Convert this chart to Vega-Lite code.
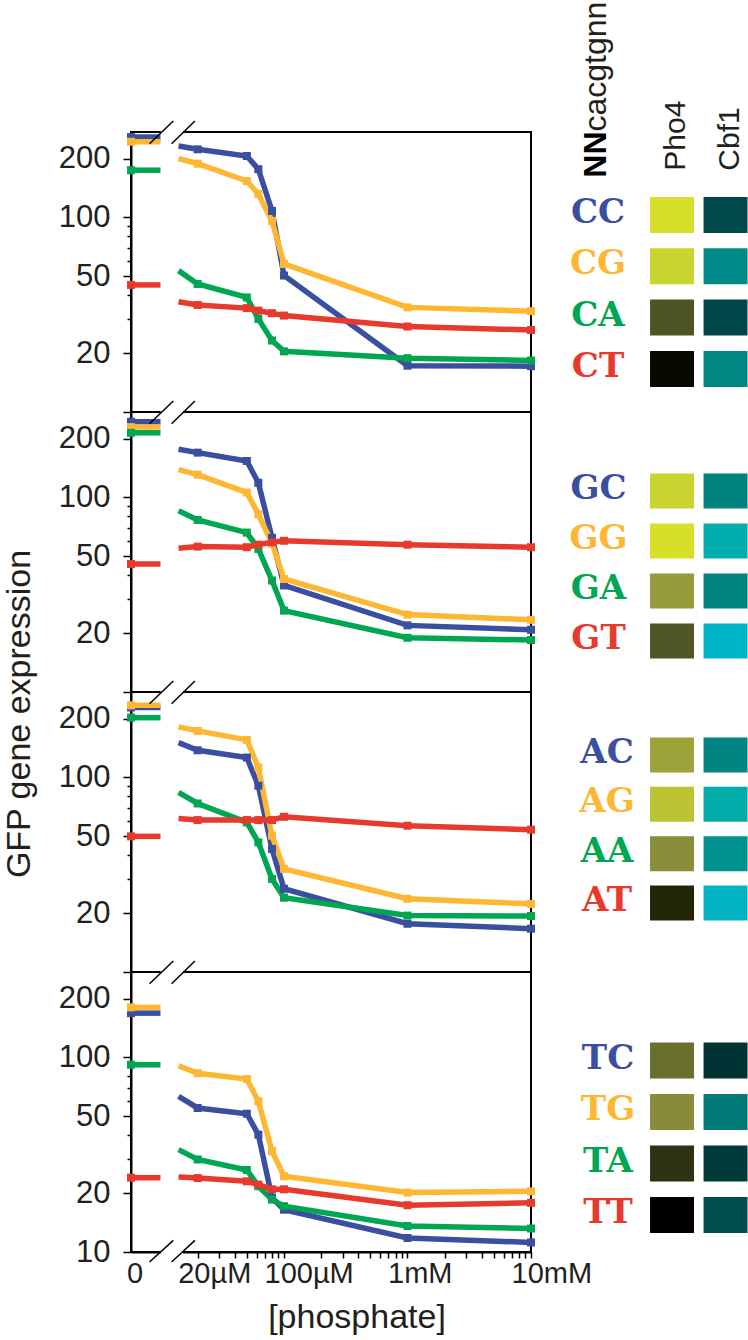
{
"$schema": "https://vega.github.io/schema/vega-lite/v6.json",
"background": "white",
"padding": {"left": 0, "top": 1, "right": 0, "bottom": 0},
"bounds": "flush",
"columns": 2,
"spacing": {"row": 0, "column": 18},
"datasets": {
"curves": [
{"p":1,"nt":"C","c":14,"v":233},{"p":1,"nt":"C","c":20,"v":224},{"p":1,"nt":"C","c":50,"v":207},{"p":1,"nt":"C","c":62,"v":177},{"p":1,"nt":"C","c":80,"v":108},{"p":1,"nt":"C","c":100,"v":50.3},{"p":1,"nt":"C","c":1000,"v":17.3},{"p":1,"nt":"C","c":10000,"v":17.2},
{"p":1,"nt":"G","c":14,"v":201},{"p":1,"nt":"G","c":20,"v":189},{"p":1,"nt":"G","c":50,"v":154},{"p":1,"nt":"G","c":62,"v":132},{"p":1,"nt":"G","c":80,"v":96},{"p":1,"nt":"G","c":100,"v":57.7},{"p":1,"nt":"G","c":1000,"v":34.5},{"p":1,"nt":"G","c":10000,"v":33},
{"p":1,"nt":"A","c":14,"v":53.3},{"p":1,"nt":"A","c":20,"v":45.5},{"p":1,"nt":"A","c":50,"v":38.8},{"p":1,"nt":"A","c":62,"v":30.1},{"p":1,"nt":"A","c":80,"v":23.3},{"p":1,"nt":"A","c":100,"v":20.5},{"p":1,"nt":"A","c":1000,"v":18.9},{"p":1,"nt":"A","c":10000,"v":18.4},
{"p":1,"nt":"T","c":14,"v":36.9},{"p":1,"nt":"T","c":20,"v":35.5},{"p":1,"nt":"T","c":50,"v":34.2},{"p":1,"nt":"T","c":62,"v":33.2},{"p":1,"nt":"T","c":80,"v":32.2},{"p":1,"nt":"T","c":100,"v":31.3},{"p":1,"nt":"T","c":1000,"v":27.5},{"p":1,"nt":"T","c":10000,"v":26.4},
{"p":2,"nt":"C","c":14,"v":177},{"p":2,"nt":"C","c":20,"v":170},{"p":2,"nt":"C","c":50,"v":154},{"p":2,"nt":"C","c":62,"v":119},{"p":2,"nt":"C","c":80,"v":62},{"p":2,"nt":"C","c":100,"v":35.3},{"p":2,"nt":"C","c":1000,"v":22},{"p":2,"nt":"C","c":10000,"v":20.9},
{"p":2,"nt":"G","c":14,"v":139},{"p":2,"nt":"G","c":20,"v":131},{"p":2,"nt":"G","c":50,"v":106},{"p":2,"nt":"G","c":62,"v":82},{"p":2,"nt":"G","c":80,"v":58},{"p":2,"nt":"G","c":100,"v":38.1},{"p":2,"nt":"G","c":1000,"v":25},{"p":2,"nt":"G","c":10000,"v":23.5},
{"p":2,"nt":"A","c":14,"v":85.4},{"p":2,"nt":"A","c":20,"v":76.6},{"p":2,"nt":"A","c":50,"v":66},{"p":2,"nt":"A","c":62,"v":54.4},{"p":2,"nt":"A","c":80,"v":37.4},{"p":2,"nt":"A","c":100,"v":26.2},{"p":2,"nt":"A","c":1000,"v":19},{"p":2,"nt":"A","c":10000,"v":18.5},
{"p":2,"nt":"T","c":14,"v":54.8},{"p":2,"nt":"T","c":20,"v":55.9},{"p":2,"nt":"T","c":50,"v":55.5},{"p":2,"nt":"T","c":62,"v":57.2},{"p":2,"nt":"T","c":80,"v":58.8},{"p":2,"nt":"T","c":100,"v":59.9},{"p":2,"nt":"T","c":1000,"v":57.2},{"p":2,"nt":"T","c":10000,"v":55.5},
{"p":3,"nt":"C","c":14,"v":151},{"p":3,"nt":"C","c":20,"v":138},{"p":3,"nt":"C","c":50,"v":126.6},{"p":3,"nt":"C","c":62,"v":90.7},{"p":3,"nt":"C","c":80,"v":42.9},{"p":3,"nt":"C","c":100,"v":26.8},{"p":3,"nt":"C","c":1000,"v":17.7},{"p":3,"nt":"C","c":10000,"v":16.7},
{"p":3,"nt":"G","c":14,"v":182},{"p":3,"nt":"G","c":20,"v":173.5},{"p":3,"nt":"G","c":50,"v":156},{"p":3,"nt":"G","c":62,"v":112.6},{"p":3,"nt":"G","c":80,"v":50.2},{"p":3,"nt":"G","c":100,"v":33.9},{"p":3,"nt":"G","c":1000,"v":23.8},{"p":3,"nt":"G","c":10000,"v":22.4},
{"p":3,"nt":"A","c":14,"v":83.8},{"p":3,"nt":"A","c":20,"v":73.5},{"p":3,"nt":"A","c":50,"v":58.8},{"p":3,"nt":"A","c":62,"v":46.4},{"p":3,"nt":"A","c":80,"v":30.1},{"p":3,"nt":"A","c":100,"v":24.1},{"p":3,"nt":"A","c":1000,"v":19.5},{"p":3,"nt":"A","c":10000,"v":19.4},
{"p":3,"nt":"T","c":14,"v":61.5},{"p":3,"nt":"T","c":20,"v":60.4},{"p":3,"nt":"T","c":50,"v":60.4},{"p":3,"nt":"T","c":62,"v":60.4},{"p":3,"nt":"T","c":80,"v":60.4},{"p":3,"nt":"T","c":100,"v":62.8},{"p":3,"nt":"T","c":1000,"v":56.5},{"p":3,"nt":"T","c":10000,"v":53.9},
{"p":4,"nt":"C","c":14,"v":63.1},{"p":4,"nt":"C","c":20,"v":55},{"p":4,"nt":"C","c":50,"v":51.4},{"p":4,"nt":"C","c":62,"v":40.1},{"p":4,"nt":"C","c":80,"v":19},{"p":4,"nt":"C","c":100,"v":16.5},{"p":4,"nt":"C","c":1000,"v":11.8},{"p":4,"nt":"C","c":10000,"v":11.2},
{"p":4,"nt":"G","c":14,"v":90.7},{"p":4,"nt":"G","c":20,"v":83},{"p":4,"nt":"G","c":50,"v":77.5},{"p":4,"nt":"G","c":62,"v":59.5},{"p":4,"nt":"G","c":80,"v":33},{"p":4,"nt":"G","c":100,"v":24.5},{"p":4,"nt":"G","c":1000,"v":20.2},{"p":4,"nt":"G","c":10000,"v":20.5},
{"p":4,"nt":"A","c":14,"v":33.6},{"p":4,"nt":"A","c":20,"v":29.9},{"p":4,"nt":"A","c":50,"v":26.4},{"p":4,"nt":"A","c":62,"v":21.8},{"p":4,"nt":"A","c":80,"v":18.6},{"p":4,"nt":"A","c":100,"v":17.2},{"p":4,"nt":"A","c":1000,"v":13.6},{"p":4,"nt":"A","c":10000,"v":13.2},
{"p":4,"nt":"T","c":14,"v":24.3},{"p":4,"nt":"T","c":20,"v":24},{"p":4,"nt":"T","c":50,"v":23.1},{"p":4,"nt":"T","c":62,"v":22.2},{"p":4,"nt":"T","c":80,"v":21},{"p":4,"nt":"T","c":100,"v":21},{"p":4,"nt":"T","c":1000,"v":17.4},{"p":4,"nt":"T","c":10000,"v":17.9}
],
"zero": [
{"p":1,"nt":"C","v":259},{"p":1,"nt":"G","v":245},{"p":1,"nt":"A","v":175},{"p":1,"nt":"T","v":45},
{"p":2,"nt":"C","v":245},{"p":2,"nt":"G","v":230},{"p":2,"nt":"A","v":215},{"p":2,"nt":"T","v":45.5},
{"p":3,"nt":"C","v":229},{"p":3,"nt":"G","v":235},{"p":3,"nt":"A","v":203},{"p":3,"nt":"T","v":49.8},
{"p":4,"nt":"C","v":169},{"p":4,"nt":"G","v":181},{"p":4,"nt":"A","v":91.7},{"p":4,"nt":"T","v":24.1}
],
"legend": [
{"p":1,"code":"CC","nt":"C","col":"Pho4","k":"CC-Pho4"},{"p":1,"code":"CC","nt":"C","col":"Cbf1","k":"CC-Cbf1"},
{"p":1,"code":"CG","nt":"G","col":"Pho4","k":"CG-Pho4"},{"p":1,"code":"CG","nt":"G","col":"Cbf1","k":"CG-Cbf1"},
{"p":1,"code":"CA","nt":"A","col":"Pho4","k":"CA-Pho4"},{"p":1,"code":"CA","nt":"A","col":"Cbf1","k":"CA-Cbf1"},
{"p":1,"code":"CT","nt":"T","col":"Pho4","k":"CT-Pho4"},{"p":1,"code":"CT","nt":"T","col":"Cbf1","k":"CT-Cbf1"},
{"p":2,"code":"GC","nt":"C","col":"Pho4","k":"GC-Pho4"},{"p":2,"code":"GC","nt":"C","col":"Cbf1","k":"GC-Cbf1"},
{"p":2,"code":"GG","nt":"G","col":"Pho4","k":"GG-Pho4"},{"p":2,"code":"GG","nt":"G","col":"Cbf1","k":"GG-Cbf1"},
{"p":2,"code":"GA","nt":"A","col":"Pho4","k":"GA-Pho4"},{"p":2,"code":"GA","nt":"A","col":"Cbf1","k":"GA-Cbf1"},
{"p":2,"code":"GT","nt":"T","col":"Pho4","k":"GT-Pho4"},{"p":2,"code":"GT","nt":"T","col":"Cbf1","k":"GT-Cbf1"},
{"p":3,"code":"AC","nt":"C","col":"Pho4","k":"AC-Pho4"},{"p":3,"code":"AC","nt":"C","col":"Cbf1","k":"AC-Cbf1"},
{"p":3,"code":"AG","nt":"G","col":"Pho4","k":"AG-Pho4"},{"p":3,"code":"AG","nt":"G","col":"Cbf1","k":"AG-Cbf1"},
{"p":3,"code":"AA","nt":"A","col":"Pho4","k":"AA-Pho4"},{"p":3,"code":"AA","nt":"A","col":"Cbf1","k":"AA-Cbf1"},
{"p":3,"code":"AT","nt":"T","col":"Pho4","k":"AT-Pho4"},{"p":3,"code":"AT","nt":"T","col":"Cbf1","k":"AT-Cbf1"},
{"p":4,"code":"TC","nt":"C","col":"Pho4","k":"TC-Pho4"},{"p":4,"code":"TC","nt":"C","col":"Cbf1","k":"TC-Cbf1"},
{"p":4,"code":"TG","nt":"G","col":"Pho4","k":"TG-Pho4"},{"p":4,"code":"TG","nt":"G","col":"Cbf1","k":"TG-Cbf1"},
{"p":4,"code":"TA","nt":"A","col":"Pho4","k":"TA-Pho4"},{"p":4,"code":"TA","nt":"A","col":"Cbf1","k":"TA-Cbf1"},
{"p":4,"code":"TT","nt":"T","col":"Pho4","k":"TT-Pho4"},{"p":4,"code":"TT","nt":"T","col":"Cbf1","k":"TT-Cbf1"}
]
},
"concat": [
{
"width": 400, "height": 280,
"resolve": {"axis": {"x": "independent", "y": "independent"}},
"layer": [
{"data":{"name":"curves"},"transform":[{"filter":"datum.p == 1"}],"mark":{"type":"line","strokeWidth":5.5},
 "encoding":{"x":{"field":"c","type":"quantitative","scale":{"type":"log","domain":[5.77,10000],"nice":false},"axis":null},
  "y":{"field":"v","type":"quantitative","scale":{"type":"log","domain":[10,275],"nice":false},
   "axis":{"orient":"left","values":[10,20,50,100,200],"labelExpr":"datum.value == 10 ? '' : format(datum.value, 'd')","tickSize":8,"labelPadding":13,"labelFontSize":31,"labelFlush":false,"labelOverlap":false,"title":null}},
  "color":{"field":"nt","type":"nominal","scale":{"domain":["C","G","A","T"],"range":["#3A4FA0","#FDB733","#00A651","#E8392D"]},"legend":null}}},
{"data":{"name":"curves"},"transform":[{"filter":"datum.p == 1 && datum.c >= 20"}],"mark":{"type":"point","shape":"square","filled":true,"size":64,"opacity":1},
 "encoding":{"x":{"field":"c","type":"quantitative","axis":null},
  "y":{"field":"v","type":"quantitative","axis":{"orient":"left","values":[30,40,60,70,80,90],"labels":false,"domain":false,"tickSize":4,"title":null}},
  "color":{"field":"nt","type":"nominal","legend":null}}},
{"data":{"name":"zero"},"transform":[{"filter":"datum.p == 1"}],"mark":{"type":"rule","strokeWidth":5.5},
 "encoding":{"x":{"datum":5.77,"axis":null},"x2":{"datum":10},"y":{"field":"v","type":"quantitative","axis":null},"color":{"field":"nt","type":"nominal","legend":null}}},
{"data":{"name":"zero"},"transform":[{"filter":"datum.p == 1"}],"mark":{"type":"point","shape":"square","filled":true,"size":64,"opacity":1},
 "encoding":{"x":{"datum":5.77,"axis":null},"y":{"field":"v","type":"quantitative","axis":null},"color":{"field":"nt","type":"nominal","legend":null}}},
{"data":{"values":[{}]},"mark":{"type":"rule","stroke":"#ffffff","strokeWidth":4},"encoding":{"x":{"datum":10.05,"axis":null},"x2":{"datum":15.2},"y":{"datum":275,"axis":null}}},
{"data":{"values":[{}]},"mark":{"type":"rule","stroke":"#000000","strokeWidth":1.5},"encoding":{"x":{"datum":8.15,"axis":null},"x2":{"datum":12.7},"y":{"datum":239.5,"axis":null},"y2":{"datum":313}}},
{"data":{"values":[{}]},"mark":{"type":"rule","stroke":"#000000","strokeWidth":1.5},"encoding":{"x":{"datum":12.3,"axis":null},"x2":{"datum":19},"y":{"datum":239.5,"axis":null},"y2":{"datum":313}}}
]
},
{
"width": 200, "height": 280, "view": {"stroke": null},
"layer": [
{"data":{"name":"legend"},"transform":[{"filter":"datum.p == 1"}],"mark":{"type":"rect"},
 "encoding":{"x":{"field":"col","type":"nominal","scale":{"type":"band","domain":["lbl","Pho4","Cbf1"],"paddingInner":0.178,"paddingOuter":0.458,"align":0.97},"axis":null},
  "y":{"field":"code","type":"nominal","scale":{"type":"band","domain":["hdr","CC","CG","CA","CT"],"paddingInner":0.298,"paddingOuter":0.378,"align":0.353},"axis":null},
  "fill":{"field":"k","type":"nominal","legend":null,"scale":{"domain":["CC-Pho4","CC-Cbf1","CG-Pho4","CG-Cbf1","CA-Pho4","CA-Cbf1","CT-Pho4","CT-Cbf1","GC-Pho4","GC-Cbf1","GG-Pho4","GG-Cbf1","GA-Pho4","GA-Cbf1","GT-Pho4","GT-Cbf1","AC-Pho4","AC-Cbf1","AG-Pho4","AG-Cbf1","AA-Pho4","AA-Cbf1","AT-Pho4","AT-Cbf1","TC-Pho4","TC-Cbf1","TG-Pho4","TG-Cbf1","TA-Pho4","TA-Cbf1","TT-Pho4","TT-Cbf1"],"range":["#D6DF2A","#004A4B","#C9D42F","#008A88","#4F5424","#00474A","#080700","#008683","#C9D42F","#00837F","#D7E027","#00AEAD","#979B3B","#00847F","#505625","#00B4C8","#9DA23B","#008582","#BBC333","#00ACAA","#888E3A","#00938F","#232507","#00B3C3","#6A6F2E","#003434","#878B3A","#007A77","#2E3112","#00393A","#000000","#004D4D"]}}}},
{"data":{"name":"legend"},"transform":[{"filter":"datum.p == 1 && datum.col == 'Pho4'"}],"mark":{"type":"text","font":"DejaVu Serif","fontWeight":"bold","fontSize":34,"baseline":"middle","align":"center","dx":-20.5,"dy":-2},
 "encoding":{"x":{"datum":"lbl","type":"nominal"},"y":{"field":"code","type":"nominal"},"text":{"field":"code"},"color":{"field":"nt","type":"nominal","legend":null}}},
{"data":{"values":[{"col":"Pho4"},{"col":"Cbf1"}]},"mark":{"type":"text","angle":270,"align":"left","baseline":"middle","fontSize":30,"dx":-7,"dy":4,"color":"#231F20"},
 "encoding":{"x":{"field":"col","type":"nominal"},"y":{"datum":"hdr","type":"nominal"},"text":{"field":"col"}}},
{"data":{"values":[{"t":"NN"}]},"mark":{"type":"text","angle":270,"align":"left","baseline":"middle","fontSize":32,"fontWeight":"bold","dx":-14,"dy":-23,"color":"#000000"},
 "encoding":{"x":{"datum":"lbl","type":"nominal"},"y":{"datum":"hdr","type":"nominal"},"text":{"field":"t"}}},
{"data":{"values":[{"t":"cacgtgnn"}]},"mark":{"type":"text","angle":270,"align":"left","baseline":"middle","fontSize":32,"dx":32.2,"dy":-23,"color":"#231F20"},
 "encoding":{"x":{"datum":"lbl","type":"nominal"},"y":{"datum":"hdr","type":"nominal"},"text":{"field":"t"}}}
]
},
{
"width": 400, "height": 280,
"resolve": {"axis": {"x": "independent", "y": "independent"}},
"layer": [
{"data":{"name":"curves"},"transform":[{"filter":"datum.p == 2"}],"mark":{"type":"line","strokeWidth":5.5},
 "encoding":{"x":{"field":"c","type":"quantitative","scale":{"type":"log","domain":[5.77,10000],"nice":false},"axis":null},
  "y":{"field":"v","type":"quantitative","scale":{"type":"log","domain":[10,275],"nice":false},
   "axis":{"orient":"left","values":[10,20,50,100,200],"labelExpr":"datum.value == 10 ? '' : format(datum.value, 'd')","tickSize":8,"labelPadding":13,"labelFontSize":31,"labelFlush":false,"labelOverlap":false,"title":null}},
  "color":{"field":"nt","type":"nominal","scale":{"domain":["C","G","A","T"],"range":["#3A4FA0","#FDB733","#00A651","#E8392D"]},"legend":null}}},
{"data":{"name":"curves"},"transform":[{"filter":"datum.p == 2 && datum.c >= 20"}],"mark":{"type":"point","shape":"square","filled":true,"size":64,"opacity":1},
 "encoding":{"x":{"field":"c","type":"quantitative","axis":null},
  "y":{"field":"v","type":"quantitative","axis":{"orient":"left","values":[30,40,60,70,80,90],"labels":false,"domain":false,"tickSize":4,"title":null}},
  "color":{"field":"nt","type":"nominal","legend":null}}},
{"data":{"name":"zero"},"transform":[{"filter":"datum.p == 2"}],"mark":{"type":"rule","strokeWidth":5.5},
 "encoding":{"x":{"datum":5.77,"axis":null},"x2":{"datum":10},"y":{"field":"v","type":"quantitative","axis":null},"color":{"field":"nt","type":"nominal","legend":null}}},
{"data":{"name":"zero"},"transform":[{"filter":"datum.p == 2"}],"mark":{"type":"point","shape":"square","filled":true,"size":64,"opacity":1},
 "encoding":{"x":{"datum":5.77,"axis":null},"y":{"field":"v","type":"quantitative","axis":null},"color":{"field":"nt","type":"nominal","legend":null}}},
{"data":{"values":[{}]},"mark":{"type":"rule","stroke":"#ffffff","strokeWidth":4},"encoding":{"x":{"datum":10.05,"axis":null},"x2":{"datum":15.2},"y":{"datum":275,"axis":null}}},
{"data":{"values":[{}]},"mark":{"type":"rule","stroke":"#000000","strokeWidth":1.5},"encoding":{"x":{"datum":8.15,"axis":null},"x2":{"datum":12.7},"y":{"datum":239.5,"axis":null},"y2":{"datum":313}}},
{"data":{"values":[{}]},"mark":{"type":"rule","stroke":"#000000","strokeWidth":1.5},"encoding":{"x":{"datum":12.3,"axis":null},"x2":{"datum":19},"y":{"datum":239.5,"axis":null},"y2":{"datum":313}}}
]
},
{
"width": 200, "height": 280, "view": {"stroke": null},
"layer": [
{"data":{"name":"legend"},"transform":[{"filter":"datum.p == 2"}],"mark":{"type":"rect"},
 "encoding":{"x":{"field":"col","type":"nominal","scale":{"type":"band","domain":["lbl","Pho4","Cbf1"],"paddingInner":0.178,"paddingOuter":0.458,"align":0.97},"axis":null},
  "y":{"field":"code","type":"nominal","scale":{"type":"band","domain":["GC","GG","GA","GT"],"paddingInner":0.3,"paddingOuter":0.95,"align":0.647},"axis":null},
  "fill":{"field":"k","type":"nominal","legend":null,"scale":{"domain":["CC-Pho4","CC-Cbf1","CG-Pho4","CG-Cbf1","CA-Pho4","CA-Cbf1","CT-Pho4","CT-Cbf1","GC-Pho4","GC-Cbf1","GG-Pho4","GG-Cbf1","GA-Pho4","GA-Cbf1","GT-Pho4","GT-Cbf1","AC-Pho4","AC-Cbf1","AG-Pho4","AG-Cbf1","AA-Pho4","AA-Cbf1","AT-Pho4","AT-Cbf1","TC-Pho4","TC-Cbf1","TG-Pho4","TG-Cbf1","TA-Pho4","TA-Cbf1","TT-Pho4","TT-Cbf1"],"range":["#D6DF2A","#004A4B","#C9D42F","#008A88","#4F5424","#00474A","#080700","#008683","#C9D42F","#00837F","#D7E027","#00AEAD","#979B3B","#00847F","#505625","#00B4C8","#9DA23B","#008582","#BBC333","#00ACAA","#888E3A","#00938F","#232507","#00B3C3","#6A6F2E","#003434","#878B3A","#007A77","#2E3112","#00393A","#000000","#004D4D"]}}}},
{"data":{"name":"legend"},"transform":[{"filter":"datum.p == 2 && datum.col == 'Pho4'"}],"mark":{"type":"text","font":"DejaVu Serif","fontWeight":"bold","fontSize":34,"baseline":"middle","align":"center","dx":-20,"dy":-2},
 "encoding":{"x":{"datum":"lbl","type":"nominal"},"y":{"field":"code","type":"nominal"},"text":{"field":"code"},"color":{"field":"nt","type":"nominal","legend":null}}}
]
},
{
"width": 400, "height": 280,
"resolve": {"axis": {"x": "independent", "y": "independent"}},
"layer": [
{"data":{"name":"curves"},"transform":[{"filter":"datum.p == 3"}],"mark":{"type":"line","strokeWidth":5.5},
 "encoding":{"x":{"field":"c","type":"quantitative","scale":{"type":"log","domain":[5.77,10000],"nice":false},"axis":null},
  "y":{"field":"v","type":"quantitative","scale":{"type":"log","domain":[10,275],"nice":false},
   "axis":{"orient":"left","values":[10,20,50,100,200],"labelExpr":"datum.value == 10 ? '' : format(datum.value, 'd')","tickSize":8,"labelPadding":13,"labelFontSize":31,"labelFlush":false,"labelOverlap":false,
   "title":"GFP gene expression","titleFontSize":34,"titleFontWeight":"normal","titleAngle":270,"titleX":-102,"titleY":21.5,"titleAlign":"center","titleBaseline":"alphabetic"}},
  "color":{"field":"nt","type":"nominal","scale":{"domain":["C","G","A","T"],"range":["#3A4FA0","#FDB733","#00A651","#E8392D"]},"legend":null}}},
{"data":{"name":"curves"},"transform":[{"filter":"datum.p == 3 && datum.c >= 20"}],"mark":{"type":"point","shape":"square","filled":true,"size":64,"opacity":1},
 "encoding":{"x":{"field":"c","type":"quantitative","axis":null},
  "y":{"field":"v","type":"quantitative","axis":{"orient":"left","values":[30,40,60,70,80,90],"labels":false,"domain":false,"tickSize":4,"title":null}},
  "color":{"field":"nt","type":"nominal","legend":null}}},
{"data":{"name":"zero"},"transform":[{"filter":"datum.p == 3"}],"mark":{"type":"rule","strokeWidth":5.5},
 "encoding":{"x":{"datum":5.77,"axis":null},"x2":{"datum":10},"y":{"field":"v","type":"quantitative","axis":null},"color":{"field":"nt","type":"nominal","legend":null}}},
{"data":{"name":"zero"},"transform":[{"filter":"datum.p == 3"}],"mark":{"type":"point","shape":"square","filled":true,"size":64,"opacity":1},
 "encoding":{"x":{"datum":5.77,"axis":null},"y":{"field":"v","type":"quantitative","axis":null},"color":{"field":"nt","type":"nominal","legend":null}}},
{"data":{"values":[{}]},"mark":{"type":"rule","stroke":"#ffffff","strokeWidth":4},"encoding":{"x":{"datum":10.05,"axis":null},"x2":{"datum":15.2},"y":{"datum":275,"axis":null}}},
{"data":{"values":[{}]},"mark":{"type":"rule","stroke":"#000000","strokeWidth":1.5},"encoding":{"x":{"datum":8.15,"axis":null},"x2":{"datum":12.7},"y":{"datum":239.5,"axis":null},"y2":{"datum":313}}},
{"data":{"values":[{}]},"mark":{"type":"rule","stroke":"#000000","strokeWidth":1.5},"encoding":{"x":{"datum":12.3,"axis":null},"x2":{"datum":19},"y":{"datum":239.5,"axis":null},"y2":{"datum":313}}}
]
},
{
"width": 200, "height": 280, "view": {"stroke": null},
"layer": [
{"data":{"name":"legend"},"transform":[{"filter":"datum.p == 3"}],"mark":{"type":"rect"},
 "encoding":{"x":{"field":"col","type":"nominal","scale":{"type":"band","domain":["lbl","Pho4","Cbf1"],"paddingInner":0.178,"paddingOuter":0.458,"align":0.97},"axis":null},
  "y":{"field":"code","type":"nominal","scale":{"type":"band","domain":["AC","AG","AA","AT"],"paddingInner":0.29,"paddingOuter":0.985,"align":0.469},"axis":null},
  "fill":{"field":"k","type":"nominal","legend":null,"scale":{"domain":["CC-Pho4","CC-Cbf1","CG-Pho4","CG-Cbf1","CA-Pho4","CA-Cbf1","CT-Pho4","CT-Cbf1","GC-Pho4","GC-Cbf1","GG-Pho4","GG-Cbf1","GA-Pho4","GA-Cbf1","GT-Pho4","GT-Cbf1","AC-Pho4","AC-Cbf1","AG-Pho4","AG-Cbf1","AA-Pho4","AA-Cbf1","AT-Pho4","AT-Cbf1","TC-Pho4","TC-Cbf1","TG-Pho4","TG-Cbf1","TA-Pho4","TA-Cbf1","TT-Pho4","TT-Cbf1"],"range":["#D6DF2A","#004A4B","#C9D42F","#008A88","#4F5424","#00474A","#080700","#008683","#C9D42F","#00837F","#D7E027","#00AEAD","#979B3B","#00847F","#505625","#00B4C8","#9DA23B","#008582","#BBC333","#00ACAA","#888E3A","#00938F","#232507","#00B3C3","#6A6F2E","#003434","#878B3A","#007A77","#2E3112","#00393A","#000000","#004D4D"]}}}},
{"data":{"name":"legend"},"transform":[{"filter":"datum.p == 3 && datum.col == 'Pho4'"}],"mark":{"type":"text","font":"DejaVu Serif","fontWeight":"bold","fontSize":34,"baseline":"middle","align":"center","dx":-11.5,"dy":-2},
 "encoding":{"x":{"datum":"lbl","type":"nominal"},"y":{"field":"code","type":"nominal"},"text":{"field":"code"},"color":{"field":"nt","type":"nominal","legend":null}}}
]
},
{
"width": 400, "height": 280,
"resolve": {"axis": {"x": "independent", "y": "independent"}},
"layer": [
{"data":{"name":"curves"},"transform":[{"filter":"datum.p == 4"}],"mark":{"type":"line","strokeWidth":5.5},
 "encoding":{"x":{"field":"c","type":"quantitative","scale":{"type":"log","domain":[5.77,10000],"nice":false},
   "axis":{"orient":"bottom","values":[7.7,20,100,1000,10000],"ticks":false,
    "labelExpr":"datum.value < 10 ? '0' : datum.value == 20 ? '20µM' : datum.value == 100 ? '100µM' : datum.value == 1000 ? '1mM' : '10mM'",
    "labelAlign":"left","labelOffset":-20,"labelPadding":7,"labelFontSize":29,"labelFlush":false,"labelOverlap":false,
    "title":"[phosphate]","titleFontSize":34,"titleFontWeight":"normal","titleX":225.5,"titleY":75,"titleAlign":"center","titleBaseline":"alphabetic"}},
  "y":{"field":"v","type":"quantitative","scale":{"type":"log","domain":[10,275],"nice":false},
   "axis":{"orient":"left","values":[10,20,50,100,200],"labelExpr":"format(datum.value, 'd')","tickSize":8,"labelPadding":13,"labelFontSize":31,"labelFlush":false,"labelOverlap":false,"title":null}},
  "color":{"field":"nt","type":"nominal","scale":{"domain":["C","G","A","T"],"range":["#3A4FA0","#FDB733","#00A651","#E8392D"]},"legend":null}}},
{"data":{"name":"curves"},"transform":[{"filter":"datum.p == 4 && datum.c >= 20"}],"mark":{"type":"point","shape":"square","filled":true,"size":64,"opacity":1},
 "encoding":{"x":{"field":"c","type":"quantitative","axis":{"orient":"bottom","values":[20,30,40,50,60,70,80,90,100,200,300,400,500,600,700,800,900,1000,2000,3000,4000,5000,6000,7000,8000,9000,10000],"labels":false,"domain":false,"tickSize":6,"title":null}},
  "y":{"field":"v","type":"quantitative","axis":{"orient":"left","values":[30,40,60,70,80,90],"labels":false,"domain":false,"tickSize":4,"title":null}},
  "color":{"field":"nt","type":"nominal","legend":null}}},
{"data":{"name":"zero"},"transform":[{"filter":"datum.p == 4"}],"mark":{"type":"rule","strokeWidth":5.5},
 "encoding":{"x":{"datum":5.77,"axis":null},"x2":{"datum":10},"y":{"field":"v","type":"quantitative","axis":null},"color":{"field":"nt","type":"nominal","legend":null}}},
{"data":{"name":"zero"},"transform":[{"filter":"datum.p == 4"}],"mark":{"type":"point","shape":"square","filled":true,"size":64,"opacity":1},
 "encoding":{"x":{"datum":5.77,"axis":null},"y":{"field":"v","type":"quantitative","axis":null},"color":{"field":"nt","type":"nominal","legend":null}}},
{"data":{"values":[{}]},"mark":{"type":"rule","stroke":"#ffffff","strokeWidth":4},"encoding":{"x":{"datum":10.05,"axis":null},"x2":{"datum":15.2},"y":{"datum":275,"axis":null}}},
{"data":{"values":[{}]},"mark":{"type":"rule","stroke":"#000000","strokeWidth":1.5},"encoding":{"x":{"datum":8.15,"axis":null},"x2":{"datum":12.7},"y":{"datum":239.5,"axis":null},"y2":{"datum":313}}},
{"data":{"values":[{}]},"mark":{"type":"rule","stroke":"#000000","strokeWidth":1.5},"encoding":{"x":{"datum":12.3,"axis":null},"x2":{"datum":19},"y":{"datum":239.5,"axis":null},"y2":{"datum":313}}},
{"data":{"values":[{}]},"mark":{"type":"rule","stroke":"#ffffff","strokeWidth":4},"encoding":{"x":{"datum":10.05,"axis":null},"x2":{"datum":15.2},"y":{"datum":10,"axis":null}}},
{"data":{"values":[{}]},"mark":{"type":"rule","stroke":"#000000","strokeWidth":1.5},"encoding":{"x":{"datum":8.15,"axis":null},"x2":{"datum":12.7},"y":{"datum":8.89,"axis":null},"y2":{"datum":11.47}}},
{"data":{"values":[{}]},"mark":{"type":"rule","stroke":"#000000","strokeWidth":1.5},"encoding":{"x":{"datum":12.3,"axis":null},"x2":{"datum":19},"y":{"datum":8.89,"axis":null},"y2":{"datum":11.47}}}
]
},
{
"width": 200, "height": 280, "view": {"stroke": null},
"layer": [
{"data":{"name":"legend"},"transform":[{"filter":"datum.p == 4"}],"mark":{"type":"rect"},
 "encoding":{"x":{"field":"col","type":"nominal","scale":{"type":"band","domain":["lbl","Pho4","Cbf1"],"paddingInner":0.178,"paddingOuter":0.458,"align":0.97},"axis":null},
  "y":{"field":"code","type":"nominal","scale":{"type":"band","domain":["TC","TG","TA","TT"],"paddingInner":0.3,"paddingOuter":0.8685,"align":0.788},"axis":null},
  "fill":{"field":"k","type":"nominal","legend":null,"scale":{"domain":["CC-Pho4","CC-Cbf1","CG-Pho4","CG-Cbf1","CA-Pho4","CA-Cbf1","CT-Pho4","CT-Cbf1","GC-Pho4","GC-Cbf1","GG-Pho4","GG-Cbf1","GA-Pho4","GA-Cbf1","GT-Pho4","GT-Cbf1","AC-Pho4","AC-Cbf1","AG-Pho4","AG-Cbf1","AA-Pho4","AA-Cbf1","AT-Pho4","AT-Cbf1","TC-Pho4","TC-Cbf1","TG-Pho4","TG-Cbf1","TA-Pho4","TA-Cbf1","TT-Pho4","TT-Cbf1"],"range":["#D6DF2A","#004A4B","#C9D42F","#008A88","#4F5424","#00474A","#080700","#008683","#C9D42F","#00837F","#D7E027","#00AEAD","#979B3B","#00847F","#505625","#00B4C8","#9DA23B","#008582","#BBC333","#00ACAA","#888E3A","#00938F","#232507","#00B3C3","#6A6F2E","#003434","#878B3A","#007A77","#2E3112","#00393A","#000000","#004D4D"]}}}},
{"data":{"name":"legend"},"transform":[{"filter":"datum.p == 4 && datum.col == 'Pho4'"}],"mark":{"type":"text","font":"DejaVu Serif","fontWeight":"bold","fontSize":34,"baseline":"middle","align":"center","dx":-10.5,"dy":-2},
 "encoding":{"x":{"datum":"lbl","type":"nominal"},"y":{"field":"code","type":"nominal"},"text":{"field":"code"},"color":{"field":"nt","type":"nominal","legend":null}}}
]
}
],
"config": {
"font": "Liberation Sans",
"view": {"stroke": "#000000", "strokeWidth": 2},
"axis": {"grid": false, "domainColor": "#000000", "domainWidth": 2, "tickColor": "#000000", "tickWidth": 1.5, "labelColor": "#231F20", "labelFont": "Liberation Sans", "titleFont": "Liberation Sans", "titleColor": "#231F20"}
}
}
